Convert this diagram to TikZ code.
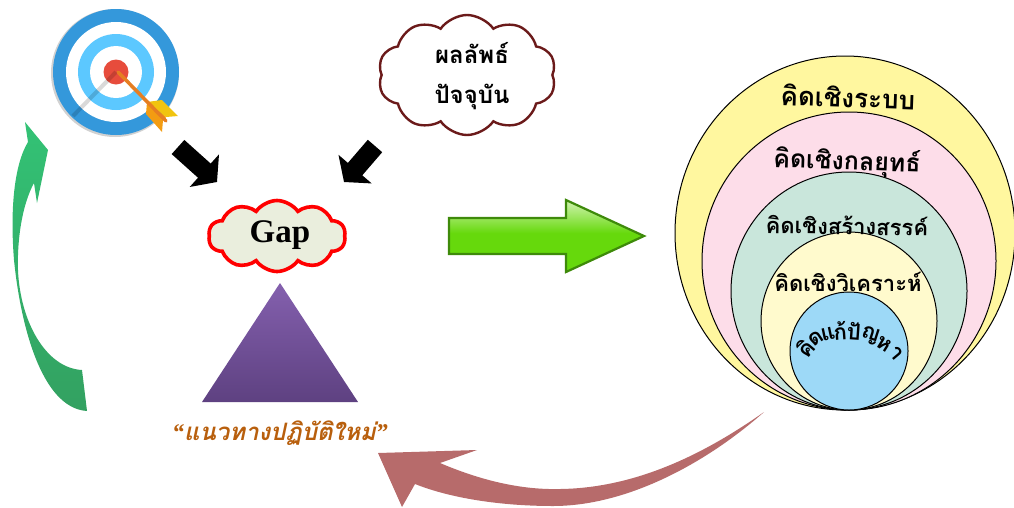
\documentclass[tikz,border=0pt]{standalone}
\usepackage{fontspec}
\usepackage{xcolor}
\usetikzlibrary{arrows.meta,shapes.symbols}
\newfontfamily\thaifont[Script=Thai]{Loma}
\newfontfamily\quotefont{Liberation Serif}
\definecolor{ringA}{HTML}{FFF79F}
\definecolor{ringB}{HTML}{FDDDE9}
\definecolor{ringC}{HTML}{C9E6DB}
\definecolor{ringD}{HTML}{FFFACD}
\definecolor{ringE}{HTML}{9DD9F7}
\definecolor{targetblue}{HTML}{3498DB}
\definecolor{targetsky}{HTML}{5CC8FF}
\definecolor{targetred}{HTML}{E74C3C}
\definecolor{shaftorange}{HTML}{E67E22}
\definecolor{vaneyellow}{HTML}{F1C40F}
\definecolor{vaneorange}{HTML}{F39C12}
\definecolor{cloudred}{HTML}{6B1A1A}
\definecolor{gapfill}{HTML}{EAEEDD}
\definecolor{leafgreen}{HTML}{66D90C}
\definecolor{leaflight}{HTML}{C4F09C}
\definecolor{leafdark}{HTML}{3E8A0A}
\definecolor{pathbrown}{HTML}{B85F0D}
\definecolor{returnred}{HTML}{B76B6B}
\definecolor{triangletop}{HTML}{8460AE}
\definecolor{trianglebase}{HTML}{5E4181}
\definecolor{curvetop}{HTML}{33C275}
\definecolor{curvebase}{HTML}{33A161}
\pgfdeclareverticalshading{leafshade}{100bp}{color(0bp)=(leafgreen); color(52bp)=(leafgreen); color(72bp)=(leaflight); color(100bp)=(leaflight)}
\tikzset{
  thaitext/.style={font=\thaifont\bfseries\fontsize{#1}{#1}\selectfont, inner sep=0pt, text=black},
  blockarrow/.style={line width=19pt, black, -{Triangle[length=17pt,width=43pt]}},
  ring/.style={draw=black, line width=1pt},
  cloudbox/.style={cloud, cloud puffs=10, cloud puff arc=110, aspect=1.5, inner sep=0pt, align=center}
}

\begin{document}
\begin{tikzpicture}[x=1pt,y=-1pt]
  \useasboundingbox (0,0) rectangle (1014,507);

  % Target
  \coordinate (target) at (116,72);
  \fill[black!18] (115,73) circle (64);
  \foreach \rad/\col in {63/targetblue,50/white,38/targetsky,26/white,12.5/targetred}
    \fill[\col] (target) circle (\rad);
  \draw[black, opacity=0.15, line width=4pt] (target) -- (73,116);
  \fill[vaneyellow] (147,102) -- (162,100) -- (178,116) -- (166,117) -- cycle;
  \fill[vaneorange] (147,102) -- (146,114) -- (162,132) -- (163,120) -- (166,117) -- cycle;
  \draw[shaftorange, line width=3.5pt, line cap=round] (target) ++(2,0) -- (166,121);

  % Clouds
  \node[cloudbox, draw=cloudred, line width=2.4pt, fill=white, minimum width=178pt, minimum height=120pt] (resultcloud) at (467,75) {};
  \node[thaitext=24] (resultA) at (472,53) {ผลลัพธ์};
  \node[thaitext=24] (resultB) at (472,97) {ปัจจุบัน};
  \node[cloudbox, draw=red, line width=3.6pt, fill=gapfill, minimum width=137pt, minimum height=71pt] (gapcloud) at (277,236) {};
  \node[font=\quotefont\bfseries\fontsize{33}{33}\selectfont, inner sep=0pt] (gaptext) at (280,235) {Gap};

  % Black arrows
  \coordinate (blackLs) at (178,147);
  \coordinate (blackLe) at (217,182);
  \coordinate (blackRs) at (375,146);
  \coordinate (blackRe) at (344,182);
  \draw[blockarrow] (blackLs) -- (blackLe);
  \draw[blockarrow] (blackRs) -- (blackRe);

  % Triangle
  \shade[top color=triangletop, bottom color=trianglebase] (280,283) -- (358,402) -- (202,402) -- cycle;
  \node[font=\thaifont\bfseries\itshape\fontsize{24}{24}\selectfont, text=pathbrown, inner sep=0pt] (newway) at (280,433)
    {{\quotefont\bfseries\itshape “}แนวทางปฏิบัติใหม่{\quotefont\bfseries\itshape ”}};

  % Big green arrow
  \path[draw=leafdark, line width=2.2pt, line join=miter, shading=leafshade]
    (449,218) -- (566,218) -- (566,200) -- (644,236) -- (566,272) -- (566,254) -- (449,254) -- cycle;

  % Nested rings
  \foreach \cx/\cy/\rx/\ry/\col in {845/233/170/177/ringA,849/261/147/149/ringB,849/291/118/119/ringC,849/321/88/89/ringD,849/351/59/59/ringE}
    \draw[ring, fill=\col] (\cx,\cy) ellipse [x radius=\rx, y radius=\ry];

  \node[thaitext=26, rotate=-2] (systemtext) at (848,97) {คิดเชิงระบบ};
  \node[thaitext=25, rotate=-2] (strategytext) at (847,162) {คิดเชิงกลยุทธ์};
  \node[thaitext=22, rotate=-1] (creativetext) at (847,225) {คิดเชิงสร้างสรรค์};
  \node[thaitext=22] (analysistext) at (848,282) {คิดเชิงวิเคราะห์};

  % Arched word, one cluster at a time
  \foreach \glyph/\gx/\gy/\rot in {คิ/805/348/50,ด/816/338/34,แ/828/334/12,ก้/840/331/4,ปั/854/331/-4,ญ/870/336/-18,ห/884/344/-32,า/896/353/-50}
    \node[thaitext=22, rotate=\rot] at (\gx,\gy) {\glyph};

  % Curved arrows
  \shade[top color=curvetop, bottom color=curvebase]
    (25,122) -- (48,150) -- (37,203) -- (34,183)
    .. controls (22,205) and (17,240) .. (18,270)
    .. controls (20,320) and (45,368) .. (82,370)
    -- (87,411)
    .. controls (40,408) and (20,320) .. (14,260)
    .. controls (10,210) and (14,165) .. (28,142) -- cycle;
  \fill[returnred]
    (378,453) -- (477,450) -- (440,463)
    .. controls (480,480) and (520,490) .. (560,489)
    .. controls (640,488) and (710,450) .. (764,412)
    .. controls (710,460) and (630,506) .. (553,506)
    .. controls (500,506) and (450,498) .. (415,484)
    -- (402,507) -- cycle;
\end{tikzpicture}
\end{document}
